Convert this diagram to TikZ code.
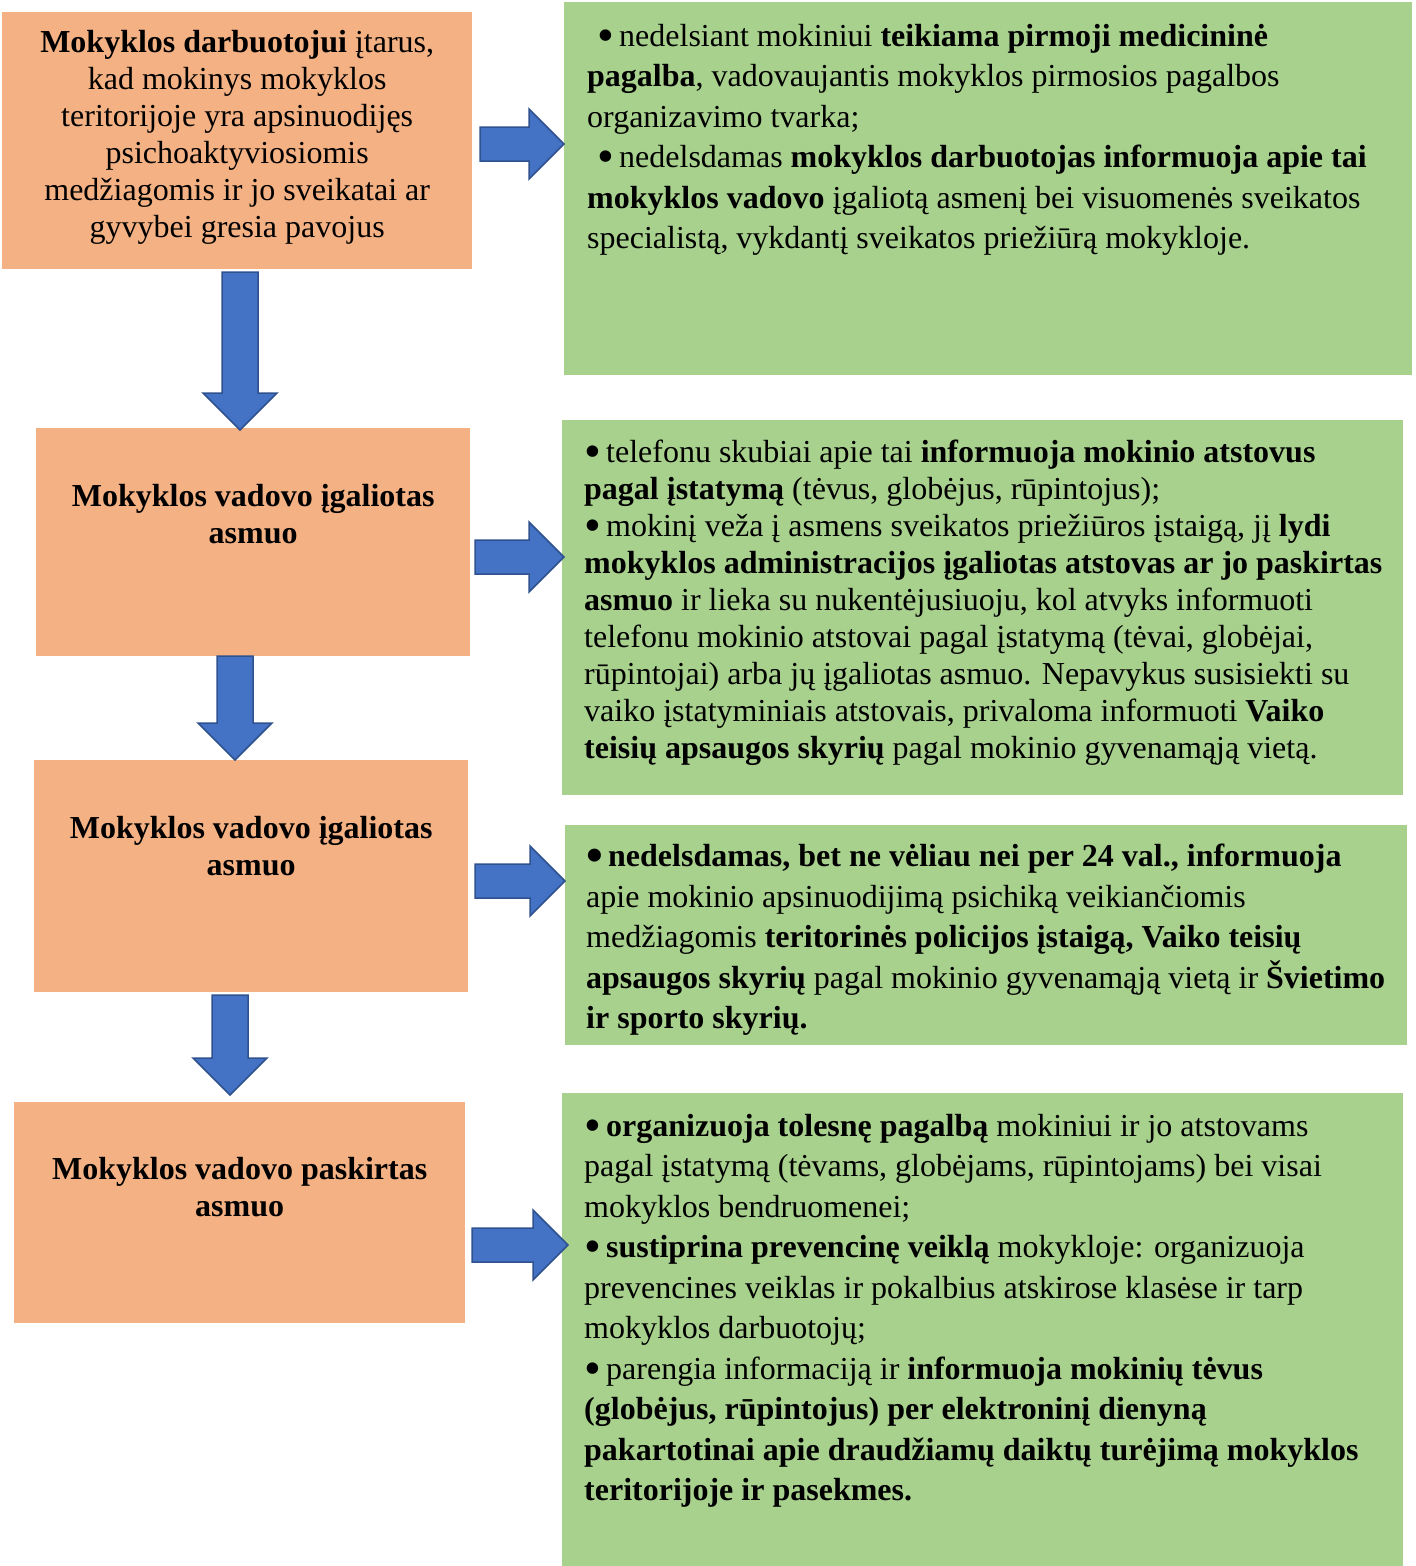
\documentclass[tikz,border=0pt]{standalone}
\usepackage{fontspec}
\usepackage{graphicx}
\setmainfont{Liberation Serif}
\usetikzlibrary{calc}
\definecolor{boxorange}{HTML}{F4B183}
\definecolor{boxgreen}{HTML}{A9D18E}
\definecolor{arrowblue}{HTML}{4472C4}
\definecolor{arrowedge}{HTML}{2F528F}
\newcommand{\bul}{\makebox[14pt][l]{\raisebox{-5pt}{\scalebox{1.5}{•}}}\ }
\begin{document}
\begin{tikzpicture}[x=1pt,y=-1pt,
    stepbox/.style={fill=boxorange,anchor=north west,inner sep=0},
    actionbox/.style={fill=boxgreen,anchor=north west,inner sep=0},
    steptext/.style={inner sep=0,anchor=north,align=center,font=\fontsize{32}{37}\selectfont},
    actiontext/.style={inner sep=0,anchor=north west,align=left,font=\fontsize{32}{40.5}\selectfont},
    blockarrow/.style={fill=arrowblue,draw=arrowedge,line width=1.5pt,line join=miter}]
\tikzset{downblock/.style={blockarrow,to path={
    ($(\tikztostart)+(-18,0)$) -- ($(\tikztostart)+(18,0)$)
    -- ($(\tikztotarget)+(18,-37)$) -- ($(\tikztotarget)+(37,-37)$)
    -- (\tikztotarget) -- ($(\tikztotarget)+(-37,-37)$)
    -- ($(\tikztotarget)+(-18,-37)$) -- cycle}}}
\tikzset{rightblock/.style={blockarrow,to path={
    ($(\tikztostart)+(0,-17)$) -- ($(\tikztotarget)+(-35,-17)$)
    -- ($(\tikztotarget)+(-35,-35)$) -- (\tikztotarget)
    -- ($(\tikztotarget)+(-35,35)$) -- ($(\tikztotarget)+(-35,17)$)
    -- ($(\tikztostart)+(0,17)$) -- cycle}}}
\useasboundingbox (0,0) rectangle (1416,1566);
% left column
\node[stepbox,minimum width=470,minimum height=257] (o1) at (2,12) {};
\node[stepbox,minimum width=434,minimum height=228] (o2) at (36,428) {};
\node[stepbox,minimum width=434,minimum height=232] (o3) at (34,760) {};
\node[stepbox,minimum width=451,minimum height=221] (o4) at (14,1102) {};
% right column
\node[actionbox,minimum width=848,minimum height=373] (g1) at (564,2) {};
\node[actionbox,minimum width=841,minimum height=375] (g2) at (562,420) {};
\node[actionbox,minimum width=842,minimum height=220] (g3) at (565,825) {};
\node[actionbox,minimum width=841,minimum height=473] (g4) at (562,1093) {};
% texts
\node[steptext] (o1t) at ($(o1.north)+(0,18)$) {\textbf{Mokyklos darbuotojui} įtarus,\\
    kad mokinys mokyklos\\ teritorijoje yra apsinuodijęs\\ psichoaktyviosiomis\\
    medžiagomis ir jo sveikatai ar\\ gyvybei gresia pavojus};
\node[steptext,font=\bfseries\fontsize{32}{37}\selectfont] (o2t) at ($(o2.north)+(0,56)$) {Mokyklos vadovo įgaliotas\\ asmuo};
\node[steptext,font=\bfseries\fontsize{32}{37}\selectfont] (o3t) at ($(o3.north)+(0,56)$) {Mokyklos vadovo įgaliotas\\ asmuo};
\node[steptext,font=\bfseries\fontsize{32}{37}\selectfont] (o4t) at ($(o4.north)+(0,55)$) {Mokyklos vadovo paskirtas\\ asmuo};
\node[actiontext] (g1t) at ($(g1.north west)+(23,22)$) {%
    \hspace*{10pt}\bul nedelsiant mokiniui \textbf{teikiama pirmoji medicininė}\\
    \textbf{pagalba}, vadovaujantis mokyklos pirmosios pagalbos\\
    organizavimo tvarka;\\
    \hspace*{10pt}\bul nedelsdamas \textbf{mokyklos darbuotojas informuoja apie tai}\\
    \textbf{mokyklos vadovo} įgaliotą asmenį bei visuomenės sveikatos\\
    specialistą, vykdantį sveikatos priežiūrą mokykloje.};
\node[actiontext,font=\fontsize{32}{37}\selectfont] (g2t) at ($(g2.north west)+(22,20)$) {%
    \bul telefonu skubiai apie tai \textbf{informuoja mokinio atstovus}\\
    \textbf{pagal įstatymą} (tėvus, globėjus, rūpintojus);\\
    \bul mokinį veža į asmens sveikatos priežiūros įstaigą, jį \textbf{lydi}\\
    \textbf{mokyklos administracijos įgaliotas atstovas ar jo paskirtas}\\
    \textbf{asmuo} ir lieka su nukentėjusiuoju, kol atvyks informuoti\\
    telefonu mokinio atstovai pagal įstatymą (tėvai, globėjai,\\
    rūpintojai) arba jų įgaliotas asmuo. Nepavykus susisiekti su\\
    vaiko įstatyminiais atstovais, privaloma informuoti \textbf{Vaiko}\\
    \textbf{teisių apsaugos skyrių} pagal mokinio gyvenamąją vietą.};
\node[actiontext] (g3t) at ($(g3.north west)+(21,19)$) {%
    \textbf{\bul nedelsdamas, bet ne vėliau nei per 24 val., informuoja}\\
    apie mokinio apsinuodijimą psichiką veikiančiomis\\
    medžiagomis \textbf{teritorinės policijos įstaigą, Vaiko teisių}\\
    \textbf{apsaugos skyrių} pagal mokinio gyvenamąją vietą ir \textbf{Švietimo}\\
    \textbf{ir sporto skyrių.}};
\node[actiontext] (g4t) at ($(g4.north west)+(22,21)$) {%
    \bul \textbf{organizuoja tolesnę pagalbą} mokiniui ir jo atstovams\\
    pagal įstatymą (tėvams, globėjams, rūpintojams) bei visai\\
    mokyklos bendruomenei;\\
    \bul \textbf{sustiprina prevencinę veiklą} mokykloje: organizuoja\\
    prevencines veiklas ir pokalbius atskirose klasėse ir tarp\\
    mokyklos darbuotojų;\\
    \bul parengia informaciją ir \textbf{informuoja mokinių tėvus}\\
    \textbf{(globėjus, rūpintojus) per elektroninį dienyną}\\
    \textbf{pakartotinai apie draudžiamų daiktų turėjimą mokyklos}\\
    \textbf{teritorijoje ir pasekmes.}};
% arrow ends
\coordinate (d1a) at (240,272);  \coordinate (d1b) at (240,430);
\coordinate (d2a) at (235,656);  \coordinate (d2b) at (235,760);
\coordinate (d3a) at (230,995);  \coordinate (d3b) at (230,1095);
\coordinate (r1a) at (480,144);  \coordinate (r1b) at (564,144);
\coordinate (r2a) at (475,557);  \coordinate (r2b) at (564,557);
\coordinate (r3a) at (475,881);  \coordinate (r3b) at (565,881);
\coordinate (r4a) at (472,1245); \coordinate (r4b) at (568,1245);
% arrows
\draw[downblock] (d1a) to (d1b);
\draw[downblock] (d2a) to (d2b);
\draw[downblock] (d3a) to (d3b);
\draw[rightblock] (r1a) to (r1b);
\draw[rightblock] (r2a) to (r2b);
\draw[rightblock] (r3a) to (r3b);
\draw[rightblock] (r4a) to (r4b);
\end{tikzpicture}
\end{document}
